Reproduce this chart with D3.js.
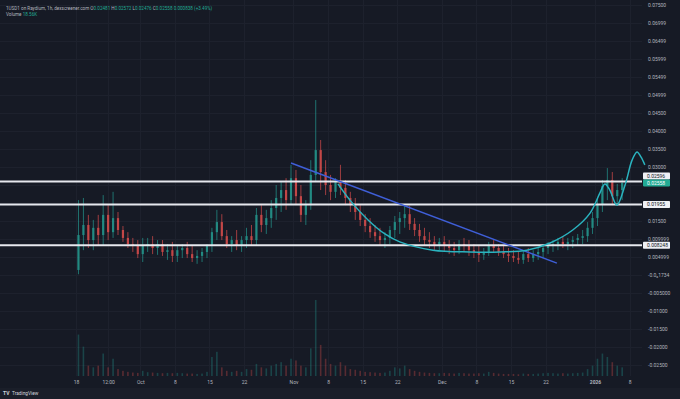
<!DOCTYPE html>
<html>
<head>
<meta charset="utf-8">
<script src="https://cdn.jsdelivr.net/npm/d3@7"></script>
<style>
  html, body { margin: 0; padding: 0; background: #161a25; }
  svg { display: block; font-family: Roboto, "DejaVu Sans", sans-serif; }
</style>
</head>
<body>
<div id="chart"></div>
<script>
// daily candles, starting 2025-09-18
var startDay = "2025-09-18";

var opens = [
  0.0014, 0.0111, 0.0139, 0.0097, 0.0131, 0.0111, 0.0167, 0.0119, 0.0158, 0.0125,
  0.0103, 0.0086, 0.0081, 0.0058, 0.0083, 0.0086, 0.0075, 0.0086, 0.0064, 0.0069,
  0.0053, 0.0069, 0.0075, 0.0058, 0.0047, 0.0053, 0.0064, 0.0081, 0.0119, 0.0147,
  0.0108, 0.0086, 0.0097, 0.0081, 0.0097, 0.0108, 0.0097, 0.0167, 0.0139, 0.0158,
  0.0186, 0.0214, 0.0236, 0.0208, 0.0269, 0.0219, 0.0167, 0.0194, 0.0278, 0.0347,
  0.0286, 0.0250, 0.0231, 0.0258, 0.0242, 0.0214, 0.0194, 0.0175, 0.0153, 0.0136,
  0.0119, 0.0108, 0.0097, 0.0103, 0.0125, 0.0147, 0.0158, 0.0169, 0.0142, 0.0125,
  0.0108, 0.0097, 0.0092, 0.0081, 0.0092, 0.0081, 0.0075, 0.0069, 0.0086, 0.0081,
  0.0069, 0.0064, 0.0056, 0.0064, 0.0081, 0.0075, 0.0064, 0.0058, 0.0053, 0.0047,
  0.0042, 0.0058, 0.0047, 0.0058, 0.0064, 0.0075, 0.0081, 0.0086, 0.0092, 0.0086,
  0.0092, 0.0097, 0.0103, 0.0108, 0.0131, 0.0158, 0.0197, 0.0247, 0.0264, 0.0219, 0.0236
];
var highs = [
  0.0208, 0.0214, 0.0167, 0.0153, 0.0167, 0.0222, 0.0194, 0.0231, 0.0175, 0.0136,
  0.0119, 0.0103, 0.0097, 0.0103, 0.0103, 0.0108, 0.0097, 0.0097, 0.0086, 0.0092,
  0.0081, 0.0086, 0.0092, 0.0081, 0.0069, 0.0075, 0.0086, 0.0131, 0.0181, 0.0169,
  0.0125, 0.0108, 0.0125, 0.0108, 0.0131, 0.0139, 0.0186, 0.0194, 0.0181, 0.0208,
  0.0250, 0.0258, 0.0269, 0.0306, 0.0292, 0.0250, 0.0208, 0.0319, 0.0486, 0.0375,
  0.0319, 0.0278, 0.0269, 0.0306, 0.0264, 0.0231, 0.0214, 0.0194, 0.0169, 0.0158,
  0.0139, 0.0131, 0.0119, 0.0136, 0.0164, 0.0175, 0.0192, 0.0192, 0.0158, 0.0142,
  0.0131, 0.0119, 0.0108, 0.0103, 0.0108, 0.0097, 0.0092, 0.0097, 0.0103, 0.0097,
  0.0086, 0.0081, 0.0075, 0.0092, 0.0097, 0.0086, 0.0081, 0.0075, 0.0069, 0.0064,
  0.0069, 0.0075, 0.0069, 0.0075, 0.0086, 0.0092, 0.0097, 0.0103, 0.0108, 0.0103,
  0.0108, 0.0114, 0.0125, 0.0147, 0.0175, 0.0214, 0.0264, 0.0297, 0.0286, 0.0253, 0.0269
];
var lows = [
  0.0002, 0.0069, 0.0075, 0.0069, 0.0083, 0.0083, 0.0097, 0.0103, 0.0111, 0.0092,
  0.0075, 0.0064, 0.0047, 0.0036, 0.0064, 0.0058, 0.0056, 0.0053, 0.0042, 0.0036,
  0.0036, 0.0047, 0.0047, 0.0036, 0.0031, 0.0036, 0.0047, 0.0064, 0.0097, 0.0097,
  0.0075, 0.0064, 0.0069, 0.0064, 0.0075, 0.0081, 0.0081, 0.0119, 0.0114, 0.0131,
  0.0153, 0.0175, 0.0181, 0.0194, 0.0194, 0.0147, 0.0139, 0.0181, 0.0258, 0.0236,
  0.0222, 0.0208, 0.0214, 0.0222, 0.0194, 0.0175, 0.0153, 0.0136, 0.0119, 0.0103,
  0.0092, 0.0083, 0.0075, 0.0086, 0.0103, 0.0114, 0.0131, 0.0125, 0.0108, 0.0092,
  0.0081, 0.0075, 0.0069, 0.0069, 0.0064, 0.0058, 0.0053, 0.0058, 0.0064, 0.0053,
  0.0047, 0.0036, 0.0042, 0.0053, 0.0064, 0.0053, 0.0047, 0.0036, 0.0036, 0.0031,
  0.0031, 0.0036, 0.0036, 0.0042, 0.0047, 0.0058, 0.0064, 0.0069, 0.0075, 0.0069,
  0.0075, 0.0081, 0.0086, 0.0092, 0.0114, 0.0136, 0.0175, 0.0208, 0.0194, 0.0192, 0.0208
];
var closes = [
  0.0111, 0.0139, 0.0097, 0.0131, 0.0111, 0.0167, 0.0119, 0.0158, 0.0125, 0.0103,
  0.0086, 0.0081, 0.0058, 0.0083, 0.0086, 0.0075, 0.0086, 0.0064, 0.0069, 0.0053,
  0.0069, 0.0075, 0.0058, 0.0047, 0.0053, 0.0064, 0.0081, 0.0119, 0.0147, 0.0108,
  0.0086, 0.0097, 0.0081, 0.0097, 0.0108, 0.0097, 0.0167, 0.0139, 0.0158, 0.0186,
  0.0214, 0.0236, 0.0208, 0.0269, 0.0219, 0.0167, 0.0194, 0.0278, 0.0347, 0.0286,
  0.0250, 0.0231, 0.0258, 0.0242, 0.0214, 0.0194, 0.0175, 0.0153, 0.0136, 0.0119,
  0.0108, 0.0097, 0.0103, 0.0125, 0.0147, 0.0158, 0.0169, 0.0142, 0.0125, 0.0108,
  0.0097, 0.0092, 0.0081, 0.0092, 0.0081, 0.0075, 0.0069, 0.0086, 0.0081, 0.0069,
  0.0064, 0.0056, 0.0064, 0.0081, 0.0075, 0.0064, 0.0058, 0.0053, 0.0047, 0.0042,
  0.0058, 0.0047, 0.0058, 0.0064, 0.0075, 0.0081, 0.0086, 0.0092, 0.0086, 0.0092,
  0.0097, 0.0103, 0.0108, 0.0131, 0.0158, 0.0197, 0.0247, 0.0264, 0.0219, 0.0236, 0.0256
];
// volume in thousands
var volumes = [
  1200, 850, 300, 250, 300, 650, 250, 500, 200, 150,
  120, 100, 90, 150, 110, 100, 90, 80, 90, 80,
  90, 80, 70, 70, 60, 70, 120, 550, 700, 250,
  150, 120, 150, 120, 200, 180, 350, 250, 220, 300,
  350, 400, 300, 500, 450, 300, 250, 800, 2200, 900,
  500, 350, 300, 400, 300, 200, 180, 150, 120, 110,
  100, 90, 100, 150, 250, 220, 300, 200, 150, 120,
  100, 90, 80, 80, 90, 80, 70, 90, 80, 70,
  70, 80, 70, 120, 90, 70, 60, 60, 60, 50,
  70, 60, 60, 70, 80, 90, 80, 70, 80, 70,
  80, 90, 100, 200, 300, 500, 650, 550, 400, 300, 250
];

// horizontal levels drawn on the chart
var levels = [0.02596, 0.01955, 0.008248];
var lastPrice = 0.02558;

// blue trend line
var trendDates = ["2025-10-31T12:00", "2025-12-24T07:00"];
var trendPrices = [0.0311, 0.0033];

// cyan cup and handle drawing
var cupDates = [
  "2025-11-10T00:00", "2025-11-12T10:00", "2025-11-16T02:00", "2025-11-19T12:00",
  "2025-11-22T12:00", "2025-11-29T05:00", "2025-12-06T17:00", "2025-12-12T19:00",
  "2025-12-18T05:00", "2025-12-22T22:00", "2025-12-27T12:00", "2025-12-31T00:00",
  "2026-01-02T00:00", "2026-01-03T00:00", "2026-01-04T00:00", "2026-01-05T10:00",
  "2026-01-07T02:00", "2026-01-08T12:00", "2026-01-09T12:00", "2026-01-10T07:00",
  "2026-01-11T02:00"
];
var cupPrices = [
  0.0253, 0.0208, 0.0153, 0.0114, 0.0092, 0.0069, 0.0064, 0.0064,
  0.0069, 0.0089, 0.0125, 0.0172, 0.0228, 0.0253, 0.0236, 0.0194,
  0.0250, 0.0319, 0.0342, 0.0328, 0.0306
];

// price axis
var priceTicks = [0.075, 0.07, 0.065, 0.06, 0.055, 0.05, 0.045, 0.04, 0.035, 0.03,
  0.015, 0.01, 0.005, 0, -0.005, -0.01, -0.015, -0.02, -0.025];
var priceLabels = ["0.07500", "0.06999", "0.06499", "0.05999", "0.05499", "0.04999",
  "0.04500", "0.04000", "0.03500", "0.03000", "0.01500", "0.009999", "0.004999",
  "-0.0\u20801734", "-0.005000", "-0.01000", "-0.01500", "-0.02000", "-0.02500"];

// time axis
var timeTicks = ["2025-09-18T00:00", "2025-09-24T12:00", "2025-10-01T00:00", "2025-10-08T00:00",
  "2025-10-15T00:00", "2025-10-22T00:00", "2025-11-01T00:00", "2025-11-08T00:00",
  "2025-11-15T00:00", "2025-11-22T00:00", "2025-12-01T00:00", "2025-12-08T00:00",
  "2025-12-15T00:00", "2025-12-22T00:00", "2026-01-01T00:00", "2026-01-08T00:00"];
var timeLabels = ["18", "12:00", "Oct", "8", "15", "22", "Nov", "8", "15", "22",
  "Dec", "8", "15", "22", "2026", "8"];

var width = 680, height = 399;
var plotRight = 642, plotBottom = 376;
var upColor = "#26a69a", downColor = "#ef5350";
var textColor = "#b2b5be";

var parse = d3.timeParse("%Y-%m-%dT%H:%M");
var day0 = d3.timeParse("%Y-%m-%d")(startDay);

var candles = closes.map(function(c, i) {
  return {
    date: d3.timeDay.offset(day0, i),
    open: opens[i], high: highs[i], low: lows[i], close: c,
    volume: volumes[i]
  };
});

var x = d3.scaleTime()
  .domain([parse("2025-09-18T00:00"), parse("2026-01-08T00:00")])
  .range([76, 629.6]);
var y = d3.scaleLinear()
  .domain([0, 0.075])
  .range([275, 5]);
var yVol = d3.scaleLinear()
  .domain([0, d3.max(volumes)])
  .range([plotBottom, 300]);

var svg = d3.select("#chart").append("svg")
  .attr("width", width)
  .attr("height", height);

svg.append("rect").attr("width", width).attr("height", height).attr("fill", "#161a25");
svg.append("rect").attr("y", 388).attr("width", width).attr("height", 11).attr("fill", "#1a1e29");

// grid
var grid = svg.append("g");
grid.selectAll(".hg")
  .data(d3.range(-0.025, 0.0751, 0.005))
  .enter().append("line")
  .attr("x1", 0).attr("x2", plotRight)
  .attr("y1", function(d) { return Math.round(y(d)) + 0.5; })
  .attr("y2", function(d) { return Math.round(y(d)) + 0.5; })
  .attr("stroke", "#1d212d").attr("stroke-width", 1);
grid.selectAll(".vg")
  .data(timeTicks)
  .enter().append("line")
  .attr("x1", function(d) { return Math.round(x(parse(d))) + 0.5; })
  .attr("x2", function(d) { return Math.round(x(parse(d))) + 0.5; })
  .attr("y1", 0).attr("y2", plotBottom)
  .attr("stroke", "#1d212d").attr("stroke-width", 1);

function cx(d) { return x(d3.timeHour.offset(d.date, 12)); }

// volume
svg.append("g").selectAll("rect")
  .data(candles)
  .enter().append("rect")
  .attr("x", function(d) { return cx(d) - 0.8; })
  .attr("width", 1.6)
  .attr("y", function(d) { return yVol(d.volume); })
  .attr("height", function(d) { return plotBottom - yVol(d.volume); })
  .attr("fill", function(d) { return d.close >= d.open ? upColor : downColor; })
  .attr("opacity", 0.3);

// candles
var cg = svg.append("g").selectAll("g")
  .data(candles)
  .enter().append("g")
  .attr("opacity", 0.8);
cg.append("line")
  .attr("x1", cx).attr("x2", cx)
  .attr("y1", function(d) { return y(d.high); })
  .attr("y2", function(d) { return y(d.low); })
  .attr("stroke", function(d) { return d.close >= d.open ? upColor : downColor; })
  .attr("stroke-width", 0.8);
cg.append("rect")
  .attr("x", function(d) { return cx(d) - 1.1; })
  .attr("width", 2.2)
  .attr("y", function(d) { return y(Math.max(d.open, d.close)); })
  .attr("height", function(d) { return Math.max(0.8, Math.abs(y(d.open) - y(d.close))); })
  .attr("fill", function(d) { return d.close >= d.open ? upColor : downColor; });

// horizontal levels
svg.append("g").selectAll("line")
  .data(levels)
  .enter().append("line")
  .attr("x1", 0).attr("x2", plotRight)
  .attr("y1", function(d) { return y(d); })
  .attr("y2", function(d) { return y(d); })
  .attr("stroke", "#e6e8ee").attr("stroke-width", 2);

// trend line
var trend = trendDates.map(function(d, i) { return [parse(d), trendPrices[i]]; });
svg.append("path")
  .datum(trend)
  .attr("d", d3.line().x(function(d) { return x(d[0]); }).y(function(d) { return y(d[1]); }))
  .attr("fill", "none").attr("stroke", "#3f5fd8").attr("stroke-width", 1.5);

// cup curve
var cup = cupDates.map(function(d, i) { return [parse(d), cupPrices[i]]; });
svg.append("path")
  .datum(cup)
  .attr("d", d3.line().curve(d3.curveCatmullRom.alpha(0.5))
    .x(function(d) { return x(d[0]); }).y(function(d) { return y(d[1]); }))
  .attr("fill", "none").attr("stroke", "#2ab3bf").attr("stroke-width", 1.5);

// price axis
var yAxis = svg.append("g")
  .attr("transform", "translate(645,0)")
  .call(d3.axisRight(y).tickValues(priceTicks)
    .tickFormat(function(d, i) { return priceLabels[i]; })
    .tickSize(0).tickPadding(3));
yAxis.select(".domain").remove();
yAxis.selectAll("text").attr("fill", textColor).style("font-size", "5px")
  .style("font-family", "Roboto, sans-serif");

// time axis
var xAxis = svg.append("g")
  .attr("transform", "translate(0," + plotBottom + ")")
  .call(d3.axisBottom(x).tickValues(timeTicks.map(parse))
    .tickFormat(function(d, i) { return timeLabels[i]; })
    .tickSize(0).tickPadding(4));
xAxis.select(".domain").remove();
xAxis.selectAll("text").attr("fill", textColor).style("font-size", "5px")
  .style("font-family", "Roboto, sans-serif")
  .style("font-weight", function(d, i) { return timeLabels[i] === "2026" ? "bold" : "normal"; });

// price labels on axis
var tags = levels.map(function(v) { return {v: v, yy: y(v), bg: "#eef0f5", fg: "#131722"}; });
var lastTag = {v: lastPrice, yy: y(lastPrice), bg: "#22ab94", fg: "#ffffff"};
tags.forEach(function(t) {
  if (Math.abs(t.yy - lastTag.yy) < 7) t.yy = lastTag.yy - 7;
});
tags.push(lastTag);
var fmt = function(v) { return v < 0.01 ? v.toFixed(6) : v.toFixed(5); };
var tg = svg.append("g").selectAll("g")
  .data(tags)
  .enter().append("g")
  .attr("transform", function(d) { return "translate(643," + d.yy + ")"; });
tg.append("rect")
  .attr("x", 0).attr("y", -3.5).attr("width", 27).attr("height", 7).attr("rx", 0.8)
  .attr("fill", function(d) { return d.bg; });
tg.append("text")
  .attr("x", 4).attr("y", 1.8)
  .attr("fill", function(d) { return d.fg; })
  .style("font-size", "5px")
  .text(function(d) { return fmt(d.v); });

// header
var head = svg.append("text").attr("x", 6).attr("y", 9.5)
  .style("font-size", "4.6px").attr("fill", textColor);
var headParts = [
  ["1USD1 on Raydium, 1h, dexscreener.com  O", textColor], ["0.02481", "#22ab94"],
  [" H", textColor], ["0.02572", "#22ab94"], [" L", textColor], ["0.02476", "#22ab94"],
  [" C", textColor], ["0.02558", "#22ab94"], [" 0.000838 (+3.49%)", "#22ab94"]
];
head.selectAll("tspan").data(headParts).enter().append("tspan")
  .attr("fill", function(d) { return d[1]; })
  .text(function(d) { return d[0]; });
var vol = svg.append("text").attr("x", 6).attr("y", 15.5)
  .style("font-size", "4.6px");
vol.append("tspan").attr("fill", textColor).text("Volume ");
vol.append("tspan").attr("fill", "#22ab94").text("18.56K");

// footer logo
svg.append("text").attr("x", 3).attr("y", 395)
  .style("font-size", "5px").style("font-weight", "bold").attr("fill", "#d1d4dc").text("TV");
svg.append("text").attr("x", 12).attr("y", 395)
  .style("font-size", "4.8px").attr("fill", "#d1d4dc").text("TradingView");
</script>
</body>
</html>
